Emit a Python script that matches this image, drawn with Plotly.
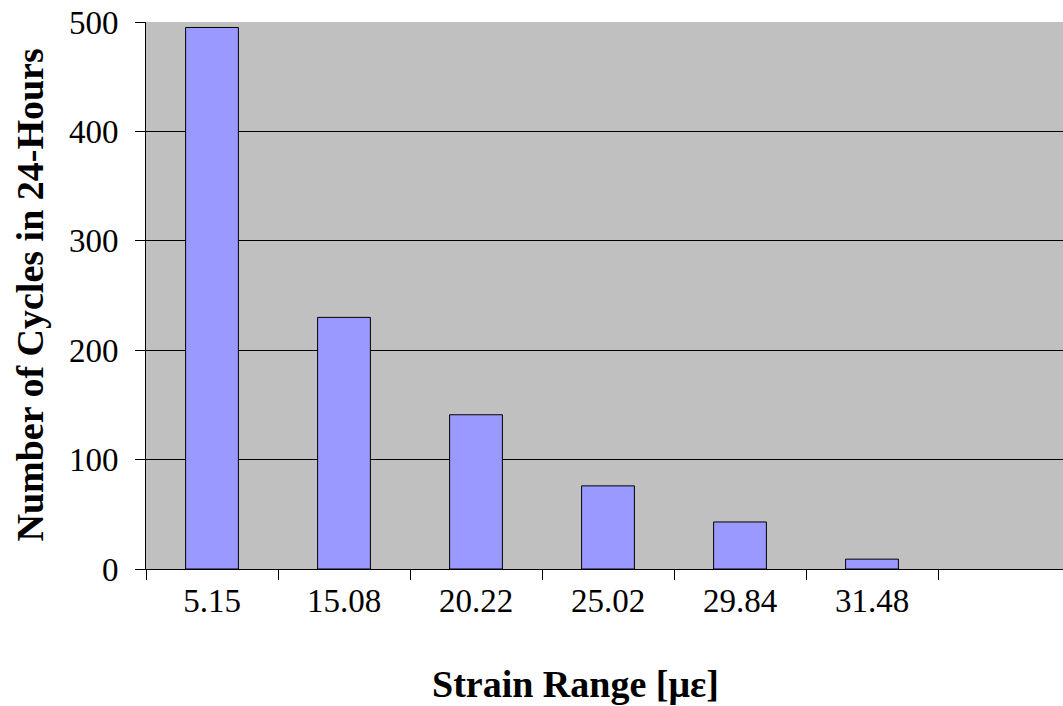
import plotly.graph_objects as go

categories = ["5.15", "15.08", "20.22", "25.02", "29.84", "31.48"]
cycles = [495, 230, 141, 76, 43, 9]
all_slots = categories + [" "]
y_ticks = [0, 100, 200, 300, 400, 500]

fig = go.Figure()
fig.add_trace(go.Bar(
    x=categories, y=cycles, width=0.4,
    marker=dict(color="#9999FF", line=dict(color="#000000", width=1)),
    showlegend=False,
))

fig.update_layout(
    width=1063, height=706,
    margin=dict(l=146, r=0, t=22, b=137),
    paper_bgcolor="white", plot_bgcolor="#C0C0C0",
    font=dict(family="Liberation Serif", size=33, color="black"),
    bargap=0.6,
)
fig.update_xaxes(
    type="category", categoryorder="array", categoryarray=all_slots,
    range=[-0.5, 6.447], tickson="boundaries", ticks="outside", ticklen=10,
    tickcolor="black", showline=True, linecolor="black", linewidth=1,
    showgrid=False, tickfont=dict(size=33), ticklabelstandoff=2,
)
fig.update_yaxes(
    range=[0, 500], tickvals=y_ticks, ticks="outside", ticklen=10, tickcolor="black",
    showline=True, linecolor="black", linewidth=1,
    showgrid=True, gridcolor="#000000", gridwidth=1, zeroline=False,
    tickfont=dict(size=33), ticklabelstandoff=10,
)
fig.add_annotation(
    text="<b>Strain Range [με]</b>", xref="paper", yref="paper",
    x=(575 - 146) / (1063 - 146), y=-(684 - 569) / (569 - 22),
    showarrow=False, font=dict(size=38), xanchor="center", yanchor="middle",
)
fig.add_annotation(
    text="<b>Number of Cycles in 24-Hours</b>", xref="paper", yref="paper",
    x=-(146 - 29) / (1063 - 146), y=0.5, textangle=-90,
    showarrow=False, font=dict(size=38), xanchor="center", yanchor="middle",
)

fig.write_html("out.html")
